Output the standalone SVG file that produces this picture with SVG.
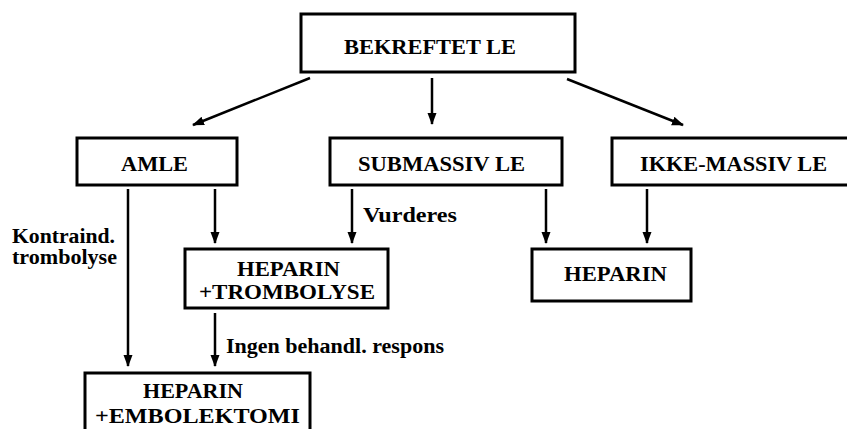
<svg xmlns="http://www.w3.org/2000/svg" width="847" height="429" viewBox="0 0 847 429">
<style>
.box{fill:#fff;stroke:#000;stroke-width:3}
.t{font-family:'Liberation Serif','Times New Roman',serif;font-weight:bold;font-size:20px;fill:#000}
.c line{stroke:#000;stroke-width:2.5;marker-end:url(#ah)}
</style>
<defs>
<marker id="ah" markerUnits="userSpaceOnUse" markerWidth="12" markerHeight="12" viewBox="0 0 12 12" refX="11" refY="6" orient="auto">
<path d="M0,1.5 L12,6 L0,10.5 Z" fill="#000"/>
</marker>
</defs>
<rect width="847" height="429" fill="#fff"/>
<g class="c" id="connectors">
<line x1="310" y1="78" x2="193" y2="125"/>
<line x1="432" y1="78" x2="432" y2="124"/>
<line x1="567" y1="79" x2="683" y2="125"/>
<line x1="128" y1="189" x2="128" y2="366"/>
<line x1="215" y1="189" x2="215" y2="243"/>
<line x1="352" y1="189" x2="352" y2="243"/>
<line x1="546" y1="189" x2="546" y2="243"/>
<line x1="647" y1="189" x2="647" y2="243"/>
<line x1="215" y1="313" x2="215" y2="366"/>
</g>
<g id="bekreftet">
<rect class="box" x="301" y="14" width="274" height="58"/>
<text class="t" x="344" y="54" textLength="172" lengthAdjust="spacingAndGlyphs">BEKREFTET LE</text>
</g>
<g id="amle">
<rect class="box" x="77" y="138" width="160" height="47"/>
<text class="t" x="121" y="171" textLength="67" lengthAdjust="spacingAndGlyphs">AMLE</text>
</g>
<g id="submassiv">
<rect class="box" x="330" y="138" width="232" height="47"/>
<text class="t" x="358" y="171" textLength="167" lengthAdjust="spacingAndGlyphs">SUBMASSIV LE</text>
</g>
<g id="ikkemassiv">
<rect class="box" x="612" y="138" width="240" height="47"/>
<text class="t" x="640" y="171" textLength="187" lengthAdjust="spacingAndGlyphs">IKKE-MASSIV LE</text>
</g>
<g id="heparin-trombolyse">
<rect class="box" x="185" y="249" width="203" height="59"/>
<text class="t" x="237" y="276" textLength="103" lengthAdjust="spacingAndGlyphs">HEPARIN</text>
<text class="t" x="199" y="299" textLength="176" lengthAdjust="spacingAndGlyphs">+TROMBOLYSE</text>
</g>
<g id="heparin">
<rect class="box" x="532" y="249" width="159" height="52"/>
<text class="t" x="564" y="281" textLength="103" lengthAdjust="spacingAndGlyphs">HEPARIN</text>
</g>
<g id="heparin-embolektomi">
<rect class="box" x="85" y="373" width="225" height="60"/>
<text class="t" x="143" y="398" textLength="100" lengthAdjust="spacingAndGlyphs">HEPARIN</text>
<text class="t" x="95" y="423" textLength="205" lengthAdjust="spacingAndGlyphs">+EMBOLEKTOMI</text>
</g>
<g id="labels">
<text class="t" x="363" y="222" textLength="94" lengthAdjust="spacingAndGlyphs">Vurderes</text>
<text class="t" x="12" y="243" textLength="103" lengthAdjust="spacingAndGlyphs">Kontraind.</text>
<text class="t" x="12" y="264" textLength="105" lengthAdjust="spacingAndGlyphs">trombolyse</text>
<text class="t" x="226" y="353" textLength="218" lengthAdjust="spacingAndGlyphs">Ingen behandl. respons</text>
</g>
</svg>
